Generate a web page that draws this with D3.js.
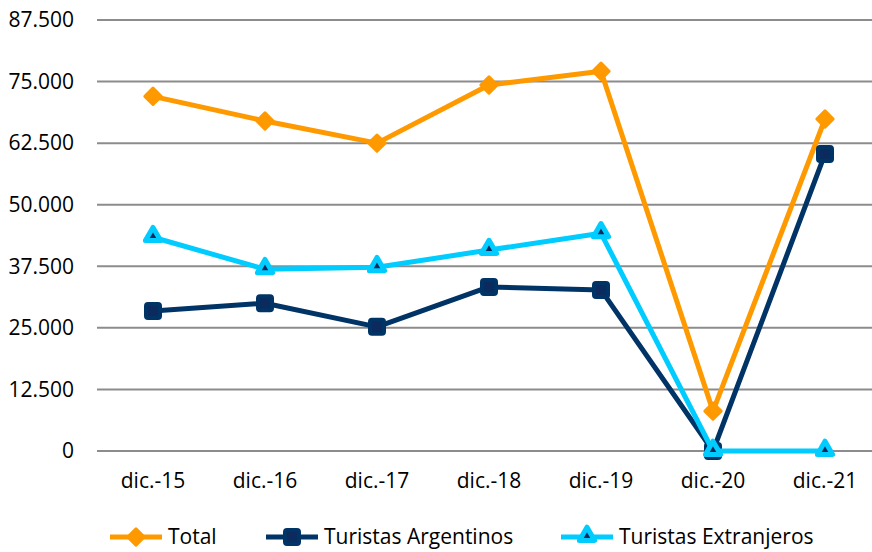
<!DOCTYPE html>
<html>
<head>
<meta charset="utf-8">
<script src="https://cdn.jsdelivr.net/npm/d3@7"></script>
<style>
  body { margin: 0; background: #fff; }
  svg { display: block; }
  text { font-family: "Open Sans", sans-serif; fill: #000; }
</style>
</head>
<body>
<script>
// data
var categories = ["dic.-15", "dic.-16", "dic.-17", "dic.-18", "dic.-19", "dic.-20", "dic.-21"];
var total = [72000, 67000, 62500, 74300, 77100, 8100, 67400];
var argentinos = [28400, 30000, 25200, 33300, 32700, 0, 60300];
var extranjeros = [43400, 36900, 37300, 40800, 44200, 0, 0];
var yTicks = [0, 12500, 25000, 37500, 50000, 62500, 75000, 87500];

var series = [
  {name: "Total", values: total, color: "#ff9900", marker: "diamond"},
  {name: "Turistas Argentinos", values: argentinos, color: "#003366", marker: "square"},
  {name: "Turistas Extranjeros", values: extranjeros, color: "#00ccff", marker: "triangle"}
];

var W = 872, H = 552;
var margin = {top: 20, left: 97};
var plotW = 784, plotH = 431;

var svg = d3.select("body").append("svg")
    .attr("width", W)
    .attr("height", H);

var x = d3.scaleBand().domain(categories).range([margin.left, margin.left + plotW]);
var y = d3.scaleLinear().domain([0, 87500]).range([margin.top + plotH, margin.top]);

var fmt = function(d) { return d3.format(",")(d).replace(/,/g, "."); };

// gridlines
svg.append("g").selectAll("line")
    .data(yTicks)
  .enter().append("line")
    .attr("x1", margin.left).attr("x2", W)
    .attr("y1", d => y(d)).attr("y2", d => y(d))
    .style("stroke", "#8c8c8c")
    .style("stroke-width", 2);

// y labels
svg.append("g").selectAll("text")
    .data(yTicks)
  .enter().append("text")
    .attr("x", 74)
    .attr("y", d => y(d))
    .attr("dy", "0.35em")
    .attr("text-anchor", "end")
    .style("font-size", "21px")
    .text(fmt);

// x labels
svg.append("g").selectAll("text")
    .data(categories)
  .enter().append("text")
    .attr("x", d => x(d) + x.bandwidth() / 2)
    .attr("y", 488)
    .attr("text-anchor", "middle")
    .style("font-size", "21px")
    .text(d => d);

var line = d3.line()
    .x((d, i) => x(categories[i]) + x.bandwidth() / 2)
    .y(d => y(d));

function drawMarker(g, type, color, cx, cy) {
  if (type === "diamond") {
    g.append("path")
      .attr("d", d3.symbol().type(d3.symbolDiamond2).size(170)())
      .attr("transform", "translate(" + cx + "," + cy + ")")
      .style("fill", color)
      .style("stroke", color)
      .style("stroke-width", 3)
      .style("stroke-linejoin", "round");
  } else if (type === "square") {
    g.append("rect")
      .attr("x", cx - 7).attr("y", cy - 7)
      .attr("width", 14).attr("height", 14)
      .attr("rx", 2)
      .style("fill", "#0b2a5e")
      .style("stroke", color)
      .style("stroke-width", 4)
      .style("stroke-linejoin", "round");
  } else {
    g.append("path")
      .attr("d", d3.symbol().type(d3.symbolTriangle).size(100)())
      .attr("transform", "translate(" + cx + "," + (cy - 1) + ")")
      .style("fill", "#0b2a5e")
      .style("stroke", color)
      .style("stroke-width", 5)
      .style("stroke-linejoin", "round");
  }
}

series.forEach(function(s) {
  var g = svg.append("g");
  g.append("path")
    .datum(s.values)
    .attr("d", line)
    .style("fill", "none")
    .style("stroke", s.color)
    .style("stroke-width", 5)
    .style("stroke-linejoin", "round");
  s.values.forEach(function(v, i) {
    drawMarker(g, s.marker, s.color, x(categories[i]) + x.bandwidth() / 2, y(v));
  });
});

// legend
var legendX = [110, 266, 561];
var legend = svg.append("g");
series.forEach(function(s, i) {
  var lg = legend.append("g");
  var lx = legendX[i], ly = 537;
  lg.append("line")
    .attr("x1", lx).attr("x2", lx + 52)
    .attr("y1", ly).attr("y2", ly)
    .style("stroke", s.color)
    .style("stroke-width", 5);
  drawMarker(lg, s.marker, s.color, lx + 26, ly);
  lg.append("text")
    .attr("x", lx + 58)
    .attr("y", ly)
    .attr("dy", "0.35em")
    .style("font-size", "21px")
    .text(s.name);
});
</script>
</body>
</html>
